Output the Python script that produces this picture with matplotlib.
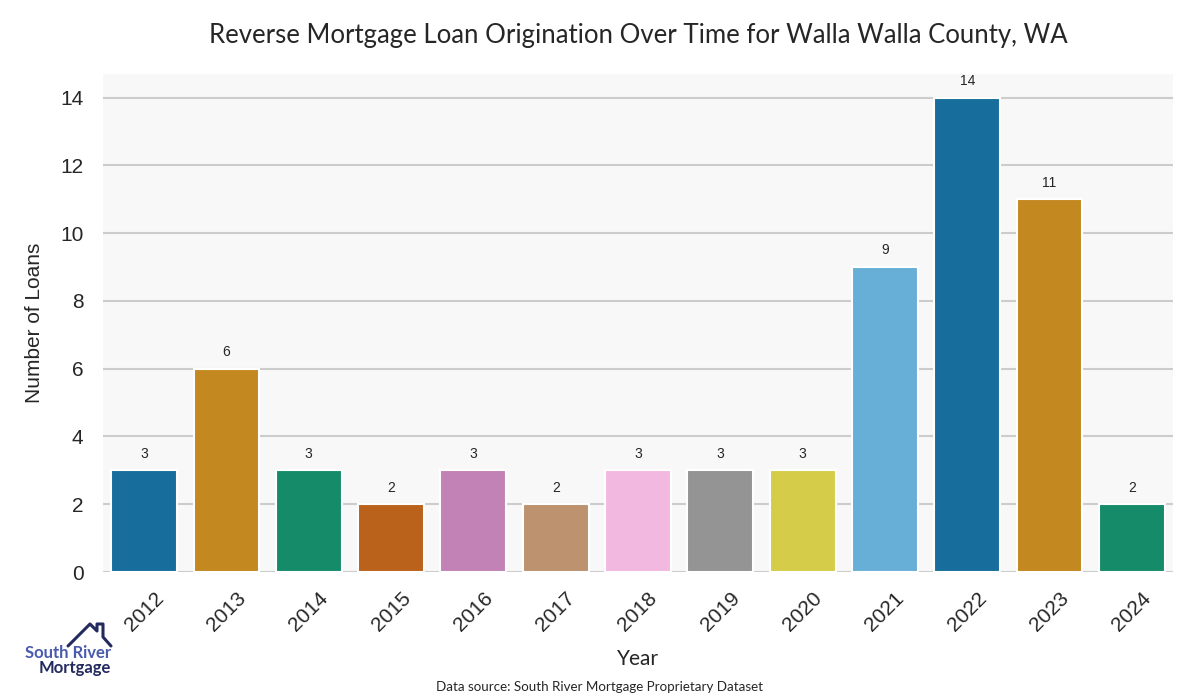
import matplotlib
matplotlib.use("Agg")
import matplotlib.pyplot as plt
import seaborn as sns
import pandas as pd
from matplotlib.lines import Line2D

years = ["2012", "2013", "2014", "2015", "2016", "2017", "2018",
         "2019", "2020", "2021", "2022", "2023", "2024"]
loans = [3, 6, 3, 2, 3, 2, 3, 3, 3, 9, 14, 11, 2]

df = pd.DataFrame({"Year": years, "Loans": loans})

sns.set_style("whitegrid")
plt.rcParams["font.family"] = ["Liberation Sans", "DejaVu Sans"]

W, H = 1200, 700
fig, ax = plt.subplots(figsize=(12, 7), dpi=100)
fig.subplots_adjust(left=103 / W, right=1173 / W, top=1 - 74 / H, bottom=1 - 572 / H)

sns.barplot(data=df, x="Year", y="Loans", hue="Year", palette="colorblind",
            legend=False, ax=ax, edgecolor="white", linewidth=1.5)

ax.set_facecolor("#f8f8f8")
ax.set_ylim(0, 14.7)
ax.set_xlim(-0.5, len(years) - 0.5)
ax.grid(axis="y", color="#cccccc", linewidth=1.5)
ax.grid(axis="x", visible=False)
ax.set_axisbelow(True)
for s in ax.spines.values():
    s.set_visible(False)
ax.tick_params(axis="both", length=0, labelsize=15, colors="#262626")
ax.tick_params(axis="y", pad=14)
ax.tick_params(axis="x", pad=12)
plt.setp(ax.get_xticklabels(), rotation=45)

for i, v in enumerate(loans):
    ax.annotate(str(v), (i, v), xytext=(0, 7), textcoords="offset points",
                ha="center", va="bottom", fontsize=10, color="#262626")

ax.set_title("Reverse Mortgage Loan Origination Over Time for Walla Walla County, WA",
             fontsize=18.5, family="Lato", color="#262626", pad=22)
ax.set_ylabel("Number of Loans", fontsize=15, color="#262626", labelpad=12)
ax.set_xlabel("Year", fontsize=15, family="Lato", color="#262626", labelpad=10)

fig.text(0.5, 0.013, "Data source: South River Mortgage Proprietary Dataset",
         ha="center", fontsize=9.6, family="Lato", color="#262626")

# logo
fig.text(111 / W, 1 - 658 / H, "South River", ha="right", va="baseline", fontsize=12,
         fontweight="bold", family="Lato", color="#4a5aad")
fig.text(111 / W, 1 - 673 / H, "Mortgage", ha="right", va="baseline", fontsize=12,
         fontweight="bold", family="Lato", color="#232a5e")
px = [68, 90, 97, 97, 103, 103, 111]
py = [646, 624, 631, 624, 624, 637, 646]
fig.add_artist(Line2D([x / W for x in px], [1 - y / H for y in py],
                      transform=fig.transFigure, color="#232a5e", linewidth=2.2))

fig.savefig("out.png", dpi=100)
